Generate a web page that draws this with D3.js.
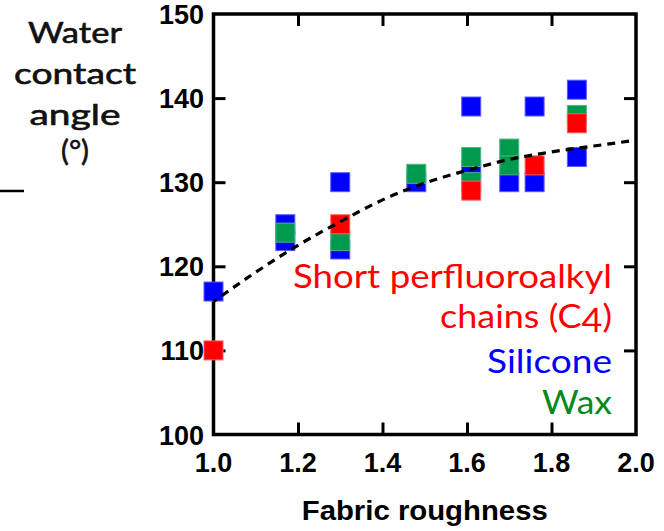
<!DOCTYPE html>
<html>
<head>
<meta charset="utf-8">
<script src="https://cdn.jsdelivr.net/npm/d3@7"></script>
<style>
  html, body { margin: 0; padding: 0; background: #fff; }
  svg { display: block; }
</style>
</head>
<body>
<svg id="chart" width="664" height="531"></svg>
<script>
// Tick values
const xTicks = [1.0, 1.2, 1.4, 1.6, 1.8, 2.0];
const yTicks = [100, 110, 120, 130, 140, 150];

// Silicone finish (blue)
const siliconeX = [1.0, 1.17, 1.17, 1.30, 1.30, 1.48, 1.61, 1.61, 1.70, 1.76, 1.76, 1.86, 1.86];
const siliconeY = [117, 125, 123, 130, 122, 130, 139, 131.5, 130, 139, 130, 141, 133];

// Wax finish (green)
const waxX = [1.17, 1.30, 1.48, 1.61, 1.61, 1.70, 1.70, 1.86];
const waxY = [124, 123, 131, 133, 130, 134, 132, 138];

// Short perfluoroalkyl chains, C4 (red)
const fluoroX = [1.0, 1.30, 1.61, 1.76, 1.86];
const fluoroY = [110, 125, 129, 132, 137];

// Trend curve (dashed)
const trendX = [1.0, 1.1, 1.2, 1.3, 1.4, 1.5, 1.6, 1.7, 1.8, 1.9, 2.0];
const trendY = [115.8, 119.3, 122.5, 125.3, 127.9, 129.9, 131.4, 132.7, 133.6, 134.3, 135.0];

(function () {
const svg = d3.select("#chart");
const plotL = 213.5, plotR = 636, plotT = 14, plotB = 434.5;

const x = d3.scaleLinear().domain([1, 2]).range([plotL, plotR]);
const y = d3.scaleLinear().domain([100, 150]).range([plotB, plotT]);

const tickFont = "'Liberation Sans', Arial, sans-serif";
const textFont = "Lato, 'Open Sans', sans-serif";

// Axes: ticks point inward on all four sides
const tickLen = 12;
function styleAxis(g) {
  g.select(".domain").remove();
  g.selectAll(".tick line").attr("stroke", "#000").attr("stroke-width", 3);
}
const innerX = xTicks.filter(v => v > 1 && v < 2);
const innerY = yTicks.filter(v => v > 100 && v < 150);

svg.append("g")
  .attr("transform", `translate(0,${plotB})`)
  .call(d3.axisBottom(x).tickValues(innerX).tickSize(-tickLen).tickFormat(""))
  .call(styleAxis);
svg.append("g")
  .attr("transform", `translate(0,${plotT})`)
  .call(d3.axisTop(x).tickValues(innerX).tickSize(-tickLen).tickFormat(""))
  .call(styleAxis);
svg.append("g")
  .attr("transform", `translate(${plotL},0)`)
  .call(d3.axisLeft(y).tickValues(innerY).tickSize(-tickLen).tickFormat(""))
  .call(styleAxis);
svg.append("g")
  .attr("transform", `translate(${plotR},0)`)
  .call(d3.axisRight(y).tickValues(innerY).tickSize(-tickLen).tickFormat(""))
  .call(styleAxis);

// Frame
svg.append("rect")
  .attr("x", plotL).attr("y", plotT)
  .attr("width", plotR - plotL).attr("height", plotB - plotT)
  .attr("fill", "none").attr("stroke", "#000").attr("stroke-width", 3.5);

// Markers: blue first, then green, then red on top
const series = [
  { xs: siliconeX, ys: siliconeY, fill: "#0000ff", edge: "#5a5aff" },
  { xs: waxX, ys: waxY, fill: "#009a4e", edge: "#4cb982" },
  { xs: fluoroX, ys: fluoroY, fill: "#ff0000", edge: "#ff6060" }
];
const size = 19;
series.forEach(s => {
  const pts = s.xs.map((v, i) => [v, s.ys[i]]);
  svg.append("g").selectAll("rect")
    .data(pts)
    .join("rect")
    .attr("x", d => x(d[0]) - size / 2)
    .attr("y", d => y(d[1]) - size / 2)
    .attr("width", size)
    .attr("height", size)
    .attr("fill", s.fill)
    .attr("stroke", s.edge)
    .attr("stroke-width", 1);
});

// Trend line, drawn over the markers
const trend = trendX.map((v, i) => [v, trendY[i]]);
svg.append("path")
  .datum(trend)
  .attr("fill", "none")
  .attr("stroke", "#000")
  .attr("stroke-width", 3.2)
  .attr("stroke-dasharray", "8,6")
  .attr("stroke-dashoffset", -10)
  .attr("d", d3.line().x(d => x(d[0])).y(d => y(d[1])).curve(d3.curveMonotoneX));

// Tick labels
svg.append("g").selectAll("text")
  .data(xTicks)
  .join("text")
  .attr("x", d => x(d))
  .attr("y", 471.5)
  .attr("text-anchor", "middle")
  .attr("font-family", tickFont)
  .attr("font-weight", "bold")
  .attr("font-size", 27)
  .text(d => d.toFixed(1));

svg.append("g").selectAll("text")
  .data(yTicks)
  .join("text")
  .attr("x", 204)
  .attr("y", d => y(d) + 10)
  .attr("text-anchor", "end")
  .attr("font-family", tickFont)
  .attr("font-weight", "bold")
  .attr("font-size", 27)
  .text(d => d);

// Axis titles
svg.append("text")
  .attr("x", (plotL + plotR) / 2)
  .attr("y", 520)
  .attr("text-anchor", "middle")
  .attr("font-family", tickFont)
  .attr("font-weight", "bold")
  .attr("font-size", 27)
  .attr("textLength", 246)
  .attr("lengthAdjust", "spacingAndGlyphs")
  .text("Fabric roughness");

const yTitle = [
  { t: "Water", y: 43.3, w: 94 },
  { t: "contact", y: 83.5, w: 122 },
  { t: "angle", y: 125, w: 91 },
  { t: "(°)", y: 161, w: 28 }
];
svg.append("g").selectAll("text")
  .data(yTitle)
  .join("text")
  .attr("x", 75)
  .attr("y", d => d.y)
  .attr("text-anchor", "middle")
  .attr("font-family", textFont)
  .attr("font-weight", 400)
  .attr("font-size", 29)
  .attr("fill", "#111")
  .attr("stroke", "#111")
  .attr("stroke-width", 0.6)
  .attr("textLength", d => d.w)
  .attr("lengthAdjust", "spacingAndGlyphs")
  .text(d => d.t);

svg.append("line")
  .attr("x1", 0).attr("x2", 24)
  .attr("y1", 191).attr("y2", 191)
  .attr("stroke", "#000").attr("stroke-width", 2.5);

// Series labels
const labels = [
  { t: "Short perfluoroalkyl", y: 287.7, w: 319, c: "#ff0000" },
  { t: "chains (C", sub: "4", tail: ")", y: 328.3, w: 172, c: "#ff0000" },
  { t: "Silicone", y: 373.3, w: 125, c: "#0000ff" },
  { t: "Wax", y: 414, w: 70, c: "#008a1a" }
];
const lab = svg.append("g").selectAll("text")
  .data(labels)
  .join("text")
  .attr("x", 612)
  .attr("y", d => d.y)
  .attr("text-anchor", "end")
  .attr("font-family", textFont)
  .attr("font-size", 32)
  .attr("fill", d => d.c)
  .attr("textLength", d => d.w)
  .attr("lengthAdjust", "spacingAndGlyphs");
lab.each(function (d) {
  const t = d3.select(this);
  t.append("tspan").text(d.t);
  if (d.sub) {
    t.append("tspan").attr("dy", 4).text(d.sub);
    t.append("tspan").attr("dy", -4).text(d.tail);
  }
});
})();
</script>
</body>
</html>
